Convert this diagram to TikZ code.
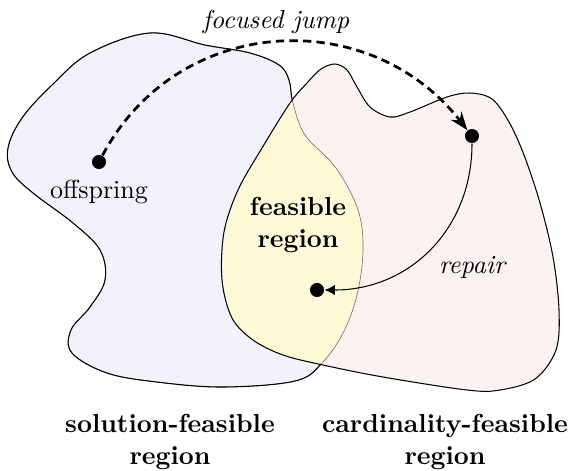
\documentclass[tikz,border=0pt]{standalone}
\usetikzlibrary{arrows.meta}
\definecolor{solblue}{RGB}{242,242,253}
\definecolor{cardpink}{RGB}{253,242,242}
\definecolor{feasyel}{RGB}{255,250,214}
\tikzset{
  bluepath/.style={insert path={plot[smooth cycle, tension=0.6] coordinates {(8,148) (22,118) (52,85) (90,53) (150,33) (205,45) (250,53) (279,65) (289,80) (293,103) (305,135) (336,168) (358,210) (363,250) (357,295) (343,333) (322,363) (295,381) (223,387) (157,382) (107,373) (72,353) (71,330) (90,307) (105,280) (100,250) (73,223) (33,193) (12,172)}}},
  pinkpath/.style={insert path={plot[smooth cycle, tension=0.55] coordinates {(290,103) (307,83) (321,69) (335,64) (347,70) (357,87) (370,107) (390,117) (410,112) (447,97) (470,93) (492,99) (509,122) (524,155) (540,203) (553,257) (559,310) (556,350) (535,379) (500,390) (467,390) (383,377) (323,365) (283,355) (253,340) (232,318) (222,280) (224,232) (238,190) (262,148)}}},
  outline/.style={line width=0.4pt},
  dot/.style={circle, fill=black, inner sep=0pt, minimum size=5.4pt},
  jump/.style={line width=1.05pt, dash pattern=on 3.2pt off 2pt, -{Stealth[length=7pt,width=5.2pt]}},
  repairarrow/.style={line width=0.4pt, -{Latex[length=4pt,width=4pt]}},
  lbl/.style={align=center, inner sep=0pt},
}
\begin{document}
\begin{tikzpicture}[x=0.384pt, y=-0.384pt]
\useasboundingbox (0,0) rectangle (574,470);
% fills
\fill[solblue, bluepath];
\fill[cardpink, pinkpath];
\begin{scope}
  \clip[bluepath];
  \fill[feasyel, pinkpath];
\end{scope}
% blue outline: faint inside pink, black outside
\draw[line width=0.25pt, black!55, bluepath];
\begin{scope}[even odd rule]
  \clip[pinkpath] (-20,-20) rectangle (600,500);
  \draw[outline, bluepath];
\end{scope}
\draw[outline, pinkpath];
% points
\node[dot] (off) at (99,162) {};
\node[dot] (tgt) at (472,136) {};
\node[dot] (fea) at (317,290) {};
% connectors
\draw[jump] (off) to[out=62, in=128, looseness=1.12] (tgt);
\draw[repairarrow] (tgt) to[out=-90, in=0, looseness=1.05] (fea);
% labels
\node[lbl] (ljump) at (276,22) {\itshape focused jump};
\node[lbl] (loff) at (99,192) {offspring};
\node[lbl] (lfea) at (298,225) {\bfseries feasible\\\bfseries region};
\node[lbl] (lrep) at (472,267) {\itshape repair};
\node[lbl] (lsol) at (170,442) {\bfseries solution-feasible\\\bfseries region};
\node[lbl] (lcard) at (445,442) {\bfseries cardinality-feasible\\\bfseries region};
\end{tikzpicture}
\end{document}
